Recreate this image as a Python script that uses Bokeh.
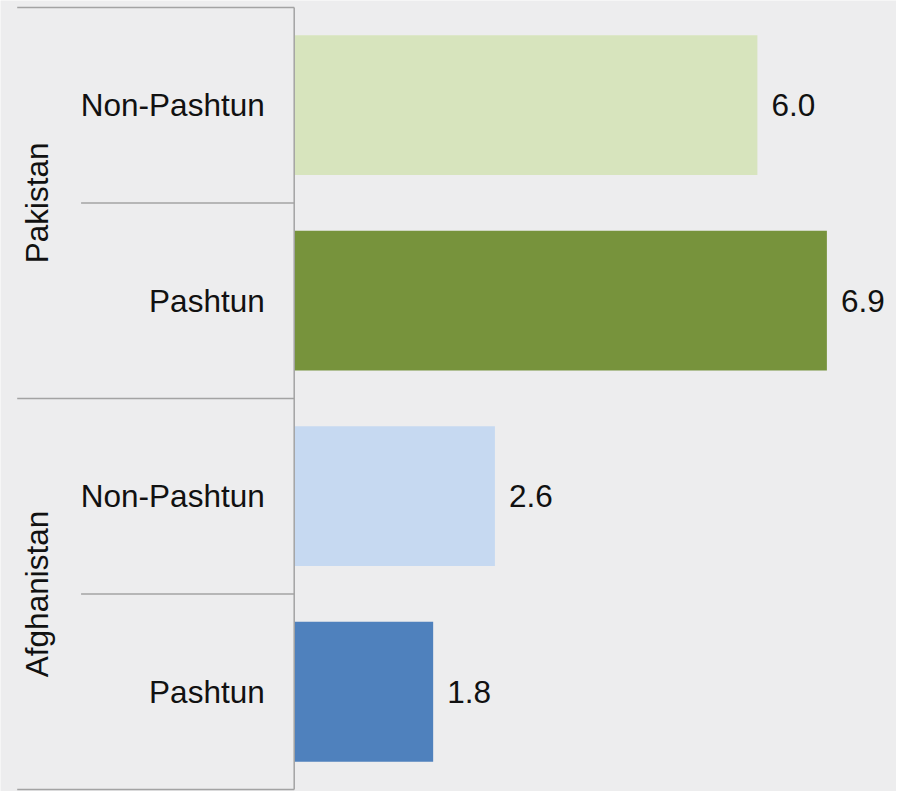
from math import pi
from bokeh.plotting import figure
from bokeh.models import ColumnDataSource, Range1d
from bokeh.core.properties import value
from bokeh.embed import file_html
from bokeh.resources import INLINE

# ---- data (top to bottom) ----
countries = ["Pakistan", "Pakistan", "Afghanistan", "Afghanistan"]
groups = ["Non-Pashtun", "Pashtun", "Non-Pashtun", "Pashtun"]
values = [6.0, 6.9, 2.6, 1.8]
value_labels = ["6.0", "6.9", "2.6", "1.8"]
colors = ["#d7e4bd", "#77933c", "#c6d9f1", "#4f81bd"]
country_names = ["Pakistan", "Afghanistan"]

# ---- layout (pixels) ----
W, H = 896, 791
PX_PER_UNIT = 77.2           # horizontal scale
AXIS_PX = 293.7              # pixel position of value 0
TOP_PX, BOTTOM_PX = 6.9, 789.0
FONT = value("Liberation Sans")
FS = "31.5px"
LINE_COLOR = "#a3a3a3"
BG = "#ededee"

n = len(values)
ys = [n - i - 0.5 for i in range(n)]

x_start = -AXIS_PX / PX_PER_UNIT
x_end = (W - AXIS_PX) / PX_PER_UNIT
py = (BOTTOM_PX - TOP_PX) / n
y_top = n + TOP_PX / py
y_bot = -(H - BOTTOM_PX) / py

p = figure(width=W, height=H, output_backend="svg", toolbar_location=None,
           x_range=Range1d(x_start, x_end), y_range=Range1d(y_bot, y_top),
           min_border=0, background_fill_color=BG, border_fill_color=BG,
           outline_line_color=None)
p.axis.visible = False
p.grid.visible = False

src = ColumnDataSource(dict(y=ys, val=values, lab=value_labels, grp=groups,
                            color=colors, zero=[0] * n))

p.hbar(y="y", left="zero", right="val", height=0.715, fill_color="color",
       line_color=None, source=src)

# value labels
p.text(x="val", y="y", text="lab", x_offset=14, text_align="left",
       text_baseline="middle", text_font=FONT, text_font_size=FS,
       text_color="#111111", source=src)

# inner category labels
p.text(x="zero", y="y", text="grp", x_offset=-29.5, text_align="right",
       text_baseline="middle", text_font=FONT, text_font_size=FS,
       text_color="#111111", source=src)

# country group labels
cy = []
for c in country_names:
    rows = [ys[i] for i in range(n) if countries[i] == c]
    cy.append(sum(rows) / len(rows))
p.text(x=[x_start] * len(country_names), y=cy, text=country_names,
       x_offset=36, angle=pi / 2, text_align="center", text_baseline="middle",
       text_font=FONT, text_font_size=FS, text_color="#111111")

# table lines
x_outer = x_start + 16.7 / PX_PER_UNIT
x_inner = x_start + 80.6 / PX_PER_UNIT
x0s, y0s, x1s, y1s = [], [], [], []
for b in range(n + 1):
    yb = n - b
    if b == 0 or b == n or countries[b - 1] != countries[b]:
        xs = x_outer
    else:
        xs = x_inner
    x0s.append(xs); y0s.append(yb); x1s.append(0); y1s.append(yb)
x0s.append(0); y0s.append(0); x1s.append(0); y1s.append(n)
p.segment(x0=x0s, y0=y0s, x1=x1s, y1=y1s, line_color=LINE_COLOR, line_width=1.5)

open("out.html", "w").write(file_html(p, INLINE))
